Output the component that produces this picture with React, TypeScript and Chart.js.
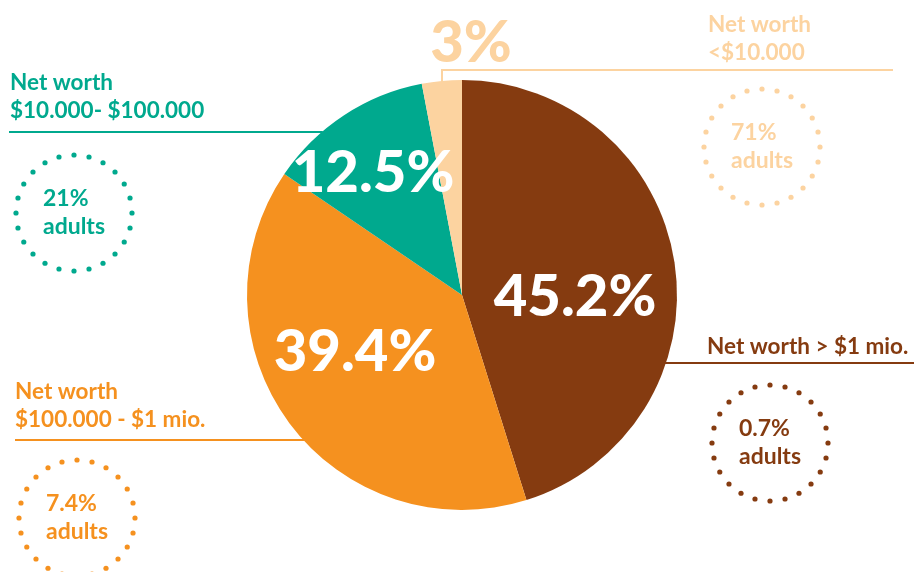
import React, { useEffect, useRef } from "react";
import { Chart, registerables } from "chart.js";

Chart.register(...registerables);

const categories = [
  "Net worth > $1 mio.",
  "Net worth $100.000 - $1 mio.",
  "Net worth $10.000- $100.000",
  "Net worth <$10.000",
];
const wealthShare = [45.2, 39.4, 12.5, 3];
const shareLabels = ["45.2%", "39.4%", "12.5%", "3%"];
const adultShareLabels = ["0.7%", "7.4%", "21%", "71%"];
const titleLines = [
  ["Net worth > $1 mio."],
  ["Net worth", "$100.000 - $1 mio."],
  ["Net worth", "$10.000- $100.000"],
  ["Net worth", "<$10.000"],
];
const colors = ["#853b10", "#f5911f", "#00a98e", "#fcd3a0"];

const FONT = "Lato, 'Open Sans', sans-serif";

// layout (positions only)
const shareLabelPos = [
  { x: 575, y: 297, color: "#ffffff" },
  { x: 355, y: 352, color: "#ffffff" },
  { x: 373, y: 173, color: "#ffffff" },
  { x: 471, y: 43, color: "#fcd3a0" },
];
const titlePos = [
  { x: 707, y: 347 },
  { x: 15, y: 392 },
  { x: 10, y: 83 },
  { x: 708, y: 25 },
];
const linePos = [
  { y: 363, x1: null as number | null, x2: 914 },
  { y: 440, x1: 15, x2: 336 },
  { y: 132, x1: 9, x2: null as number | null },
  { y: 70, x1: 442, x2: 893 },
];
const circlePos = [
  { x: 770, y: 443 },
  { x: 77, y: 518 },
  { x: 74, y: 213 },
  { x: 762, y: 147 },
];

const annotations = {
  id: "annotations",
  afterDraw(chart: any) {
    const ctx = chart.ctx as CanvasRenderingContext2D;
    const arc = chart.getDatasetMeta(0).data[0];
    const cx = arc.x, cy = arc.y, r = arc.outerRadius;
    ctx.save();
    // big share labels
    ctx.textBaseline = "middle";
    ctx.textAlign = "center";
    shareLabels.forEach((t, i) => {
      const p = shareLabelPos[i];
      ctx.fillStyle = p.color;
      ctx.font = `900 58px ${FONT}`;
      ctx.fillText(t, p.x, p.y);
    });
    // connector lines
    ctx.lineWidth = 2;
    linePos.forEach((l, i) => {
      ctx.strokeStyle = colors[i];
      ctx.beginPath();
      const dy = l.y - cy;
      const edge = Math.sqrt(Math.max(0, r * r - dy * dy));
      if (i === 0) {
        ctx.moveTo(cx + edge - 1, l.y);
        ctx.lineTo(l.x2 as number, l.y);
      } else if (i === 2) {
        ctx.moveTo(l.x1 as number, l.y);
        ctx.lineTo(cx - edge + 1, l.y);
      } else if (i === 3) {
        const dx = (l.x1 as number) - cx;
        const ey = cy - Math.sqrt(r * r - dx * dx);
        ctx.moveTo(l.x1 as number, ey + 2);
        ctx.lineTo(l.x1 as number, l.y);
        ctx.lineTo(l.x2 as number, l.y);
      } else {
        ctx.moveTo(l.x1 as number, l.y);
        ctx.lineTo(l.x2 as number, l.y);
      }
      ctx.stroke();
    });
    // titles
    ctx.textAlign = "left";
    ctx.font = `bold 22.5px ${FONT}`;
    titleLines.forEach((lines, i) => {
      ctx.fillStyle = colors[i];
      lines.forEach((t, j) => {
        ctx.fillText(t, titlePos[i].x, titlePos[i].y + j * 28);
      });
    });
    // dotted circles
    circlePos.forEach((c, i) => {
      ctx.fillStyle = colors[i];
      const n = 24, R = 58;
      for (let k = 0; k < n; k++) {
        const a = (k / n) * Math.PI * 2;
        ctx.beginPath();
        ctx.arc(c.x + R * Math.sin(a), c.y - R * Math.cos(a), 2.6, 0, Math.PI * 2);
        ctx.fill();
      }
      ctx.font = `bold 23px ${FONT}`;
      const w = ctx.measureText("adults").width;
      const x0 = c.x - w / 2;
      ctx.fillText(adultShareLabels[i], x0, c.y - 14);
      ctx.fillText("adults", x0, c.y + 14);
    });
    ctx.restore();
  },
};

export default function App() {
  const ref = useRef<HTMLCanvasElement>(null);
  useEffect(() => {
    document.body.style.margin = "0";
    const chart = new Chart(ref.current as HTMLCanvasElement, {
      type: "pie",
      data: {
        labels: categories,
        datasets: [
          {
            data: wealthShare,
            backgroundColor: colors,
            borderWidth: 0,
          },
        ],
      },
      options: {
        animation: false,
        responsive: false,
        layout: { padding: { top: 80, bottom: 62, left: 247, right: 237 } },
        plugins: { legend: { display: false }, tooltip: { enabled: false } },
      },
      plugins: [annotations],
    });
    return () => chart.destroy();
  }, []);
  return (
    <div style={{ width: 914, height: 572 }}>
      <canvas ref={ref} width={914} height={572} />
    </div>
  );
}
